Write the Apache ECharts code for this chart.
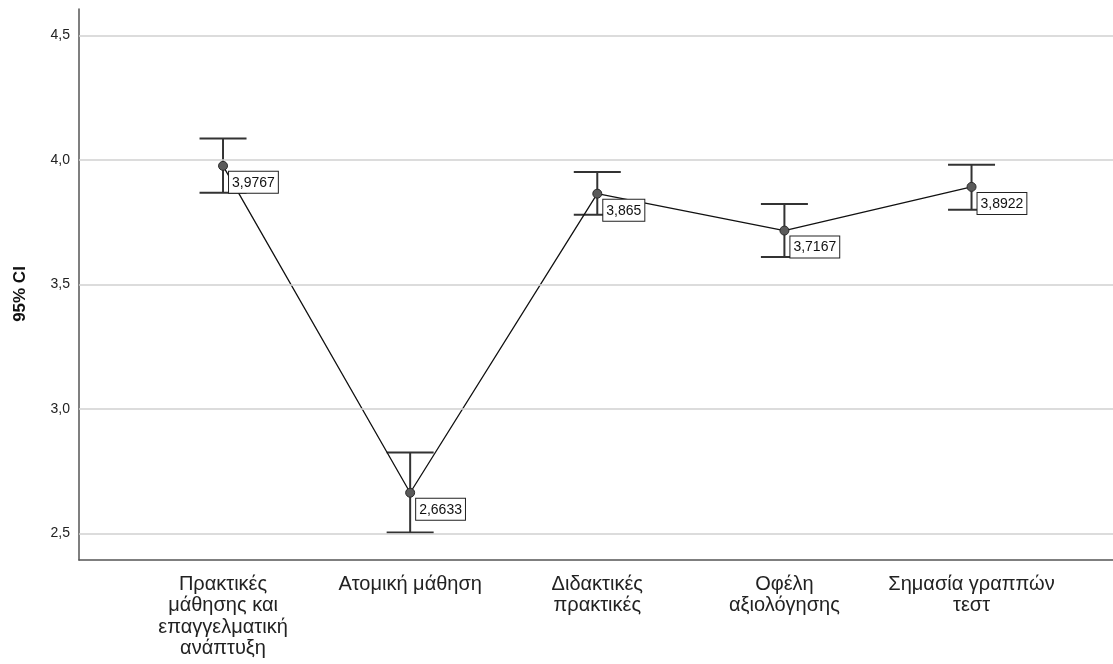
<!DOCTYPE html>
<html>
<head>
<meta charset="utf-8">
<script src="https://cdn.jsdelivr.net/npm/echarts@6/dist/echarts.min.js"></script>
<style>
html,body{margin:0;padding:0;background:#fff;}
#chart{width:1113px;height:664px;}
</style>
</head>
<body>
<div id="chart"></div>
<script>
var categories = ['Πρακτικές\nμάθησης και\nεπαγγελματική\nανάπτυξη', 'Ατομική μάθηση', 'Διδακτικές\nπρακτικές', 'Οφέλη\nαξιολόγησης', 'Σημασία γραππών\nτεστ'];
var means = [3.9767, 2.6633, 3.865, 3.7167, 3.8922];
var lowerCI = [3.869, 2.504, 3.780, 3.611, 3.800];
var upperCI = [4.087, 2.825, 3.952, 3.823, 3.981];
var yTicks = [2.5, 3.0, 3.5, 4.0, 4.5];
var yTitle = '95% CI';

var chart = echarts.init(document.getElementById('chart'));
var positions = categories.map(function(c, i){ return i + 1; });

var option = {
  animation: false,
  backgroundColor: '#ffffff',
  grid: {left: 79, right: 0, top: 9, bottom: 104},
  graphic: [{
    type: 'text',
    x: 20,
    y: 294,
    rotation: Math.PI / 2,
    style: {
      text: yTitle,
      fontFamily: 'Liberation Sans, Arial, sans-serif',
      fontSize: 17,
      fontWeight: 'bold',
      fill: '#111',
      align: 'center',
      verticalAlign: 'middle'
    }
  }],
  xAxis: {
    type: 'value',
    min: 0.2303,
    max: 5.756,
    splitLine: {show: false},
    axisTick: {show: false},
    axisLine: {show: true, onZero: false, lineStyle: {color: '#555', width: 1.5}},
    axisLabel: {
      customValues: positions,
      margin: 13.5,
      color: '#222',
      fontFamily: 'Liberation Sans, Arial, sans-serif',
      fontSize: 20,
      lineHeight: 21.5,
      align: 'center',
      formatter: function(v){ return categories[Math.round(v) - 1] || ''; }
    }
  },
  yAxis: {
    type: 'value',
    min: 2.393,
    max: 4.607,
    splitLine: {show: false},
    axisTick: {show: false},
    axisLine: {show: true, onZero: false, lineStyle: {color: '#555', width: 1.5}},
    axisLabel: {
      customValues: yTicks,
      margin: 9,
      color: '#222',
      fontFamily: 'Liberation Sans, Arial, sans-serif',
      fontSize: 14,
      formatter: function(v){ return v.toFixed(1).replace('.', ','); }
    }
  },
  series: [
    {
      type: 'line',
      data: positions.map(function(p){ return [p, 0]; }),
      symbol: 'none',
      lineStyle: {opacity: 0},
      silent: true,
      z: 1,
      markLine: {
        silent: true,
        symbol: 'none',
        label: {show: false},
        lineStyle: {color: '#d0d0d0', width: 1.5, type: 'solid'},
        data: yTicks.map(function(t){ return {yAxis: t}; })
      }
    },
    {
      type: 'custom',
      z: 3,
      data: positions.map(function(p, i){ return [p, lowerCI[i], upperCI[i]]; }),
      renderItem: function(params, api){
        var lo = api.coord([api.value(0), api.value(1)]);
        var hi = api.coord([api.value(0), api.value(2)]);
        var hw = 23.5;
        var style = {stroke: '#333', lineWidth: 2};
        return {
          type: 'group',
          children: [
            {type: 'line', shape: {x1: lo[0], y1: lo[1], x2: hi[0], y2: hi[1]}, style: style},
            {type: 'line', shape: {x1: hi[0] - hw, y1: hi[1], x2: hi[0] + hw, y2: hi[1]}, style: style},
            {type: 'line', shape: {x1: lo[0] - hw, y1: lo[1], x2: lo[0] + hw, y2: lo[1]}, style: style}
          ]
        };
      }
    },
    {
      type: 'line',
      z: 4,
      data: positions.map(function(p, i){ return [p, means[i]]; }),
      symbol: 'circle',
      symbolSize: 9,
      itemStyle: {color: '#5a5a5a', borderColor: '#2a2a2a', borderWidth: 1},
      lineStyle: {color: '#111', width: 1.3},
      label: {
        show: true,
        position: [11, 11],
        align: 'left',
        verticalAlign: 'top',
        color: '#111',
        fontFamily: 'Liberation Sans, Arial, sans-serif',
        fontSize: 14,
        backgroundColor: '#fff',
        borderColor: '#222',
        borderWidth: 1,
        padding: [4, 3, 3, 3],
        formatter: function(p){ return String(p.value[1]).replace('.', ','); }
      }
    }
  ]
};
chart.setOption(option);
</script>
</body>
</html>
